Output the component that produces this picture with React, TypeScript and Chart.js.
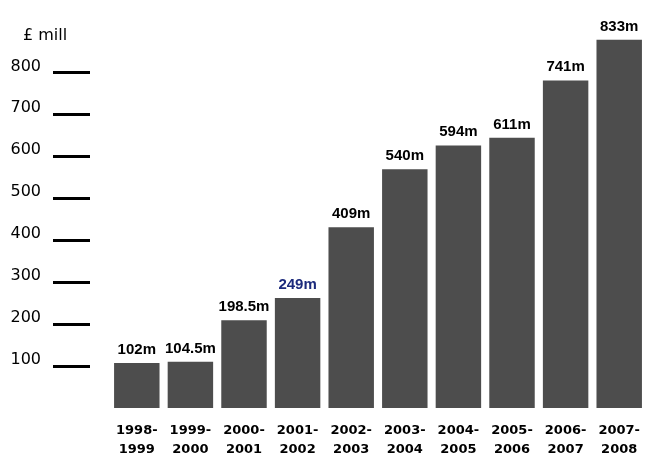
import React, { useEffect, useRef } from "react";
import { Chart, registerables } from "chart.js";

Chart.register(...registerables);

const periodLines: string[][] = [
  ["1998-", "1999"],
  ["1999-", "2000"],
  ["2000-", "2001"],
  ["2001-", "2002"],
  ["2002-", "2003"],
  ["2003-", "2004"],
  ["2004-", "2005"],
  ["2005-", "2006"],
  ["2006-", "2007"],
  ["2007-", "2008"],
];
const spendMillions: number[] = [102, 104.5, 198.5, 249, 409, 540, 594, 611, 741, 833];
const valueLabels: string[] = ["102m", "104.5m", "198.5m", "249m", "409m", "540m", "594m", "611m", "741m", "833m"];
const highlightIndex = 3;
const axisTickValues: number[] = [100, 200, 300, 400, 500, 600, 700, 800];
const unitLabel = "£ mill";

const barColor = "#4d4d4d";
const labelColor = "#000000";
const highlightColor = "#1c2a7c";

const barLabelsPlugin = {
  id: "barLabels",
  afterDatasetsDraw(chart: any) {
    const ctx = chart.ctx;
    const meta = chart.getDatasetMeta(0);
    ctx.save();
    ctx.font = 'bold 15px "Liberation Sans", Arial, sans-serif';
    ctx.textAlign = "center";
    ctx.textBaseline = "alphabetic";
    meta.data.forEach((bar: any, i: number) => {
      ctx.fillStyle = i === highlightIndex ? highlightColor : labelColor;
      ctx.fillText(valueLabels[i], bar.x, bar.y - 9);
    });
    ctx.restore();
  },
};

const unitLabelPlugin = {
  id: "unitLabel",
  afterDraw(chart: any) {
    const ctx = chart.ctx;
    ctx.save();
    ctx.font = '16px "DejaVu Sans", sans-serif';
    ctx.fillStyle = "#000";
    ctx.textAlign = "left";
    ctx.textBaseline = "middle";
    ctx.fillText(unitLabel, 23, 36);
    ctx.restore();
  },
};

export default function App() {
  const canvasRef = useRef<HTMLCanvasElement | null>(null);

  useEffect(() => {
    document.body.style.margin = "0";
    document.body.style.overflow = "hidden";
    const canvas = canvasRef.current;
    if (!canvas) return;
    const chart = new Chart(canvas, {
      type: "bar",
      data: {
        labels: periodLines,
        datasets: [
          {
            data: spendMillions,
            backgroundColor: barColor,
            borderWidth: 0,
            barPercentage: 0.848,
            categoryPercentage: 1,
            yAxisID: "y",
          },
        ],
      },
      options: {
        responsive: false,
        animation: false,
        layout: { padding: { top: 20, left: 0, right: 0, bottom: 0 } },
        plugins: {
          legend: { display: false },
          tooltip: { enabled: false },
          title: { display: false },
        },
        scales: {
          x: {
            type: "category",
            position: "bottom",
            offset: true,
            grid: { display: false, drawTicks: false },
            border: { display: false },
            ticks: {
              autoSkip: false,
              maxRotation: 0,
              minRotation: 0,
              padding: 13,
              color: "#000",
              font: { family: '"DejaVu Sans", sans-serif', size: 13, weight: "bold", lineHeight: "19px" },
            },
            afterFit(scale: any) {
              scale.height = 46;
            },
          },
          y: {
            type: "linear",
            position: "left",
            weight: 0,
            min: 0,
            max: 874,
            ticks: { display: false },
            grid: { display: false, drawTicks: false },
            border: { display: false },
            afterFit(scale: any) {
              scale.width = 20;
            },
          },
          y2: {
            type: "linear",
            position: "left",
            weight: 1,
            min: 0,
            max: 921,
            grid: {
              display: true,
              drawOnChartArea: false,
              drawTicks: true,
              tickLength: 37,
              tickWidth: 3,
              tickColor: "#000",
            },
            border: { display: false },
            ticks: {
              stepSize: 100,
              padding: 12,
              labelOffset: -6,
              color: "#000",
              font: { family: '"DejaVu Sans", sans-serif', size: 16 },
            },
            afterBuildTicks(scale: any) {
              scale.ticks = axisTickValues.map((v) => ({ value: v }));
            },
            afterFit(scale: any) {
              scale.width = 90;
            },
          },
        },
      },
      plugins: [barLabelsPlugin, unitLabelPlugin],
    } as any);
    return () => chart.destroy();
  }, []);

  return (
    <div style={{ width: 648, height: 454, overflow: "hidden", background: "#fff" }}>
      <canvas ref={canvasRef} width={653} height={454} style={{ display: "block", width: 653, height: 454 }} />
    </div>
  );
}
